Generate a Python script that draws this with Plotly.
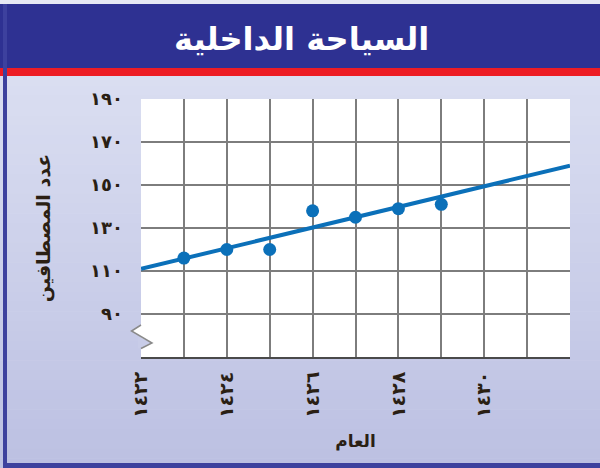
import plotly.graph_objects as go

# ---- data ----
years = [1423, 1424, 1425, 1426, 1427, 1428, 1429]
visitors = [116, 120, 120, 138, 135, 139, 141]
trend_years = [1422, 1432]
trend_values = [111, 159]

x_tickvals = [1422, 1423, 1424, 1425, 1426, 1427, 1428, 1429, 1430, 1431, 1432]
x_ticktext = ["١٤٢٢", "", "١٤٢٤", "", "١٤٢٦", "", "١٤٢٨", "", "١٤٣٠", "", ""]
y_tickvals = [70, 90, 110, 130, 150, 170, 190]
y_ticktext = ["", "٩٠", "١١٠", "١٣٠", "١٥٠", "١٧٠", "١٩٠"]

title_text = "السياحة الداخلية"
x_title = "العام"
y_title = "عدد المصطافين"

# ---- geometry helpers (pixel -> paper) ----
W, H = 600, 468
PL, PR, PT, PB = 141, 570, 99, 357


def px(x):
    return (x - PL) / (PR - PL)


def py(y):
    return (PB - y) / (PB - PT)


BLUE = "#2e3192"
RED = "#ed1c24"
FRAME = "#3d419e"
LINE = "#0b70b9"
TXT = "#2a1f14"
FONT = "DejaVu Sans"

shapes = []
# gradient background strips
n = 40
top_c = (218, 222, 241)
bot_c = (188, 192, 226)
y_start, y_end = 76, 468
for i in range(n):
    t = i / (n - 1)
    c = tuple(round(top_c[k] + (bot_c[k] - top_c[k]) * t) for k in range(3))
    ya = y_start + (y_end - y_start) * i / n
    yb = y_start + (y_end - y_start) * (i + 1) / n + 0.5
    shapes.append(dict(type="rect", xref="paper", yref="paper",
                       x0=px(0), x1=px(W), y0=py(yb), y1=py(ya),
                       fillcolor="rgb(%d,%d,%d)" % c, line=dict(width=0),
                       layer="below"))
# title band and red stripe
shapes.append(dict(type="rect", xref="paper", yref="paper",
                   x0=px(0), x1=px(W), y0=py(68), y1=py(4),
                   fillcolor=BLUE, line=dict(width=0), layer="below"))
shapes.append(dict(type="rect", xref="paper", yref="paper",
                   x0=px(0), x1=px(W), y0=py(76), y1=py(68),
                   fillcolor=RED, line=dict(width=0), layer="below"))
# frame left and bottom
shapes.append(dict(type="rect", xref="paper", yref="paper",
                   x0=px(3), x1=px(7), y0=py(468), y1=py(4),
                   fillcolor=FRAME, line=dict(width=0), layer="below"))
shapes.append(dict(type="rect", xref="paper", yref="paper",
                   x0=px(3), x1=px(W), y0=py(468), y1=py(463),
                   fillcolor=FRAME, line=dict(width=0), layer="below"))
# plot area white
shapes.append(dict(type="rect", xref="paper", yref="paper",
                   x0=0, x1=1, y0=0, y1=1,
                   fillcolor="white", line=dict(width=0), layer="below"))

# axis break zigzag on the left edge
bg_mid = "rgb(200,204,232)"


def pth(pts):
    return "M " + " L ".join("%f,%f" % (px(a), py(b)) for a, b in pts) + " Z"


shapes.append(dict(type="path", xref="paper", yref="paper",
                   path=pth([(141, 325), (131.5, 331), (141, 337)]),
                   fillcolor="white", line=dict(width=0), layer="above"))
shapes.append(dict(type="path", xref="paper", yref="paper",
                   path=pth([(140, 337), (152, 343), (141, 348.5), (138, 348.5), (138, 337)]),
                   fillcolor=bg_mid, line=dict(width=0), layer="above"))
shapes.append(dict(type="path", xref="paper", yref="paper",
                   path="M %f,%f L %f,%f L %f,%f L %f,%f" % (
                       px(141), py(325), px(131.5), py(331),
                       px(152), py(343), px(141), py(348.5)),
                   line=dict(color="#8a8a8a", width=1.5), layer="above"))

fig = go.Figure()
fig.add_trace(go.Scatter(x=trend_years, y=trend_values, mode="lines",
                         line=dict(color=LINE, width=4), hoverinfo="skip"))
fig.add_trace(go.Scatter(x=years, y=visitors, mode="markers",
                         marker=dict(color=LINE, size=13)))

fig.update_layout(
    width=W, height=H,
    margin=dict(l=PL, r=W - PR, t=PT, b=H - PB),
    paper_bgcolor="#e6e8f4",
    plot_bgcolor="rgba(0,0,0,0)",
    showlegend=False,
    shapes=shapes,
    annotations=[
        dict(text="<b>%s</b>" % title_text, xref="paper", yref="paper",
             x=px(301), y=py(39), showarrow=False,
             font=dict(family=FONT, size=32, color="white"),
             xanchor="center", yanchor="middle"),
    ],
)
fig.update_xaxes(
    range=[1422, 1432], tickvals=x_tickvals, ticktext=x_ticktext,
    tickangle=-90, showgrid=True, gridcolor="#7d7d7d", gridwidth=1.6,
    zeroline=False, ticks="", ticklabelstandoff=5,
    showline=True, linecolor="#4a4a4a", linewidth=2,
    tickfont=dict(family=FONT, size=19, color=TXT, weight="bold"),
    title=dict(text="<b>%s</b>" % x_title, standoff=18,
               font=dict(family=FONT, size=17, color=TXT)),
    fixedrange=True,
)
fig.update_yaxes(
    range=[70, 190], tickvals=y_tickvals, ticktext=y_ticktext,
    showgrid=True, gridcolor="#7d7d7d", gridwidth=1.6,
    zeroline=False, ticks="", ticklabelstandoff=17,
    tickfont=dict(family=FONT, size=18, color=TXT, weight="bold"),
    title=dict(text="<b>%s</b>" % y_title, standoff=34,
               font=dict(family=FONT, size=19, color=TXT)),
    fixedrange=True,
)

fig.write_html(
    "out.html",
    config={"displayModeBar": False},
    post_script="document.body.style.margin='0';document.body.style.overflow='hidden';",
)
